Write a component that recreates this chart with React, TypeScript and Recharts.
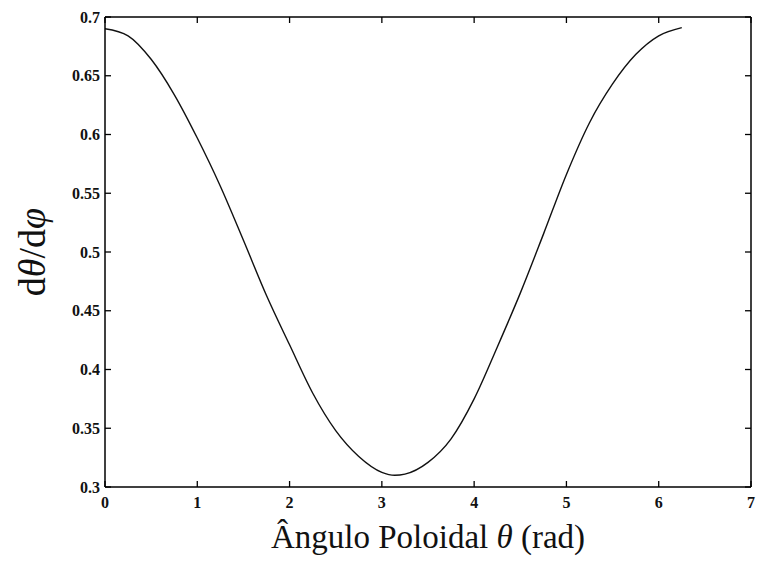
import React from "react";
import { LineChart, Line, XAxis, YAxis, ReferenceLine, Label } from "recharts";

// values
const theta = [0, 0.25, 0.5, 0.75, 1, 1.25, 1.5, 1.75, 2, 2.25, 2.5, 2.75, 3, 3.14, 3.25, 3.5, 3.75, 4, 4.25, 4.5, 4.75, 5, 5.25, 5.5, 5.75, 6, 6.25];
const dThetaDPhi = [0.69, 0.684, 0.664, 0.634, 0.597, 0.556, 0.51, 0.463, 0.421, 0.38, 0.348, 0.326, 0.3125, 0.31, 0.311, 0.321, 0.341, 0.375, 0.419, 0.465, 0.515, 0.566, 0.61, 0.643, 0.668, 0.684, 0.691];

const xTicks = [0, 1, 2, 3, 4, 5, 6, 7];
const yTicks = [0.3, 0.35, 0.4, 0.45, 0.5, 0.55, 0.6, 0.65, 0.7];

const data = theta.map((t, i) => ({ theta: t, value: dThetaDPhi[i] }));

const W = 761;
const H = 565;
const MARGIN = { top: 17, right: 10, left: 0, bottom: 0 };
const Y_AXIS_W = 105;
const X_AXIS_H = 78;
const PLOT_W = W - MARGIN.left - MARGIN.right - Y_AXIS_W;
const PLOT_H = H - MARGIN.top - MARGIN.bottom - X_AXIS_H;
const TICK = 6;
const FONT = '"Liberation Serif", "DejaVu Serif", serif';

const XTick = (props: any) => {
  const { x, y, payload } = props;
  return (
    <g>
      <line x1={x} y1={y} x2={x} y2={y - TICK} stroke="#000" strokeWidth={1.3} />
      <line x1={x} y1={y - PLOT_H} x2={x} y2={y - PLOT_H + TICK} stroke="#000" strokeWidth={1.3} />
      <text x={x} y={y + 21} textAnchor="middle" fontFamily={FONT} fontSize={16} fontWeight="bold" fill="#111">
        {payload.value}
      </text>
    </g>
  );
};

const YTick = (props: any) => {
  const { x, y, payload } = props;
  return (
    <g>
      <line x1={x} y1={y} x2={x + TICK} y2={y} stroke="#000" strokeWidth={1.3} />
      <line x1={x + PLOT_W} y1={y} x2={x + PLOT_W - TICK} y2={y} stroke="#000" strokeWidth={1.3} />
      <text x={x - 5} y={y} dy="0.35em" textAnchor="end" fontFamily={FONT} fontSize={16} fontWeight="bold" fill="#111">
        {String(payload.value)}
      </text>
    </g>
  );
};

const XLabel = (props: any) => {
  const { x, y, width } = props.viewBox;
  return (
    <text x={x + width / 2} y={y + 61} textAnchor="middle" fontFamily={FONT} fontSize={33} fill="#111">
      Ângulo Poloidal <tspan fontStyle="italic">θ</tspan> (rad)
    </text>
  );
};

const YLabel = (props: any) => {
  const { y, height } = props.viewBox;
  const cx = 32;
  const cy = y + height / 2;
  return (
    <text x={cx} y={cy} textAnchor="middle" dominantBaseline="central" transform={`rotate(-90 ${cx} ${cy})`} fontFamily={FONT} fontSize={38} fill="#111">
      d<tspan fontStyle="italic">θ</tspan>/d<tspan fontStyle="italic">φ</tspan>
    </text>
  );
};

export default function App() {
  return (
    <div style={{ position: "absolute", left: 0, top: 0, width: W, height: H, background: "#fff" }}>
      <LineChart width={W} height={H} data={data} margin={MARGIN}>
        <XAxis
          dataKey="theta"
          type="number"
          domain={[0, 7]}
          ticks={xTicks}
          interval={0}
          height={X_AXIS_H}
          tickSize={0}
          tickMargin={0}
          tickLine={false}
          tick={<XTick />}
          axisLine={{ stroke: "#000", strokeWidth: 1.5 }}
          allowDataOverflow
        >
          <Label content={<XLabel />} />
        </XAxis>
        <YAxis
          type="number"
          domain={[0.3, 0.7]}
          ticks={yTicks}
          interval={0}
          width={Y_AXIS_W}
          tickSize={0}
          tickMargin={0}
          tickLine={false}
          tick={<YTick />}
          axisLine={{ stroke: "#000", strokeWidth: 1.5 }}
          allowDataOverflow
        >
          <Label content={<YLabel />} />
        </YAxis>
        <ReferenceLine y={0.7} stroke="#000" strokeWidth={1.5} />
        <ReferenceLine x={7} stroke="#000" strokeWidth={1.5} />
        <Line
          type="monotone"
          dataKey="value"
          stroke="#111"
          strokeWidth={1.4}
          dot={false}
          activeDot={false}
          isAnimationActive={false}
        />
      </LineChart>
    </div>
  );
}
